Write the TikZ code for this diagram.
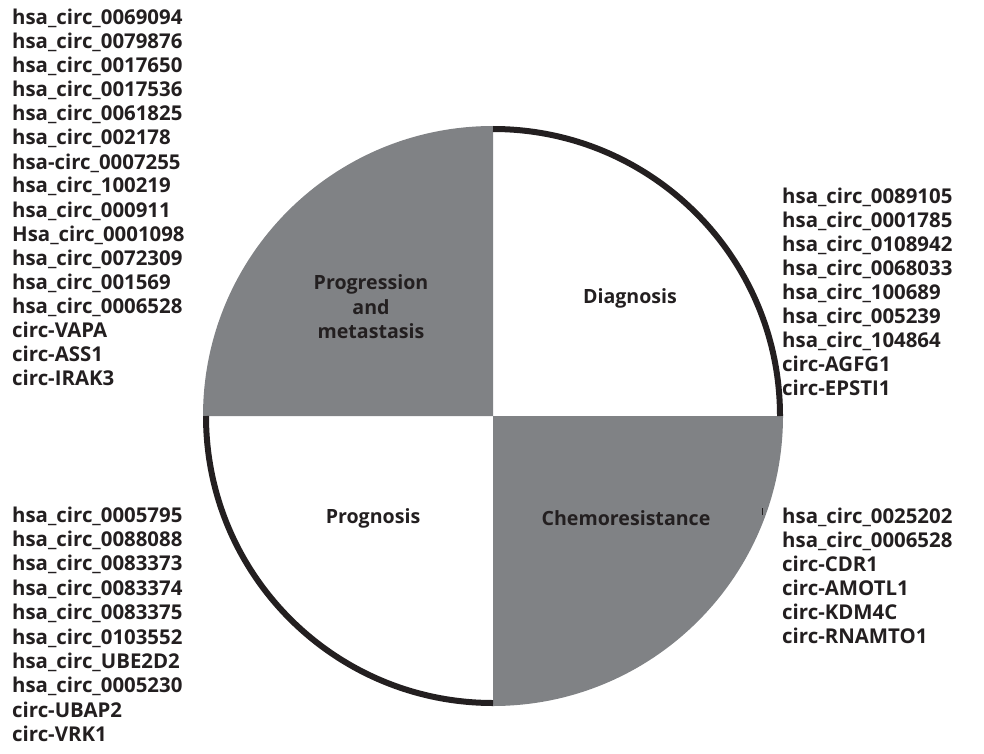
\documentclass[tikz,border=0pt]{standalone}
\usepackage{fontspec}
\setmainfont{Open Sans}
\usetikzlibrary{calc}
\definecolor{sectorgray}{RGB}{128,130,133}
\definecolor{ink}{RGB}{35,31,32}
\tikzset{
  item/.style={anchor=base west, inner sep=0pt, text=ink, font=\fontsize{20.4}{24}\selectfont\bfseries},
  cat/.style={anchor=center, inner sep=0pt, text=ink, align=center, font=\fontsize{19.6}{24.5}\selectfont\bfseries},
  rim/.style={line width=6pt, draw=ink}
}
\begin{document}
\begin{tikzpicture}[x=1pt,y=1pt]
\useasboundingbox (0,0) rectangle (984,-754);
\coordinate (c) at (493,-416);
% shaded sectors
\fill[sectorgray] (c) -- ++(180:290) arc[start angle=180,end angle=90,radius=290] -- cycle;
\fill[sectorgray] (c) -- ++(0:290) arc[start angle=0,end angle=-90,radius=290] -- cycle;
% black rims of white sectors
\draw[rim] ($(c)+(90:287)$) arc[start angle=90,end angle=0,radius=287];
\draw[rim] ($(c)+(180:287)$) arc[start angle=180,end angle=270,radius=287];
% tiny mark
\draw[ink, line width=0.8pt] (762,-508) -- (762,-515);
% category labels
\node[cat] (prog) at (371,-307) {Progression\\and\\metastasis};
\node[cat] (diag) at (630,-298) {Diagnosis};
\node[cat] (progn) at (373,-518) {Prognosis};
\node[cat] (chemo) at (626,-518) {Chemoresistance};
% lists
\foreach \t [count=\i] in {hsa\_circ\_0069094,hsa\_circ\_0079876,hsa\_circ\_0017650,hsa\_circ\_0017536,hsa\_circ\_0061825,hsa\_circ\_002178,hsa-circ\_0007255,hsa\_circ\_100219,hsa\_circ\_000911,Hsa\_circ\_0001098,hsa\_circ\_0072309,hsa\_circ\_001569,hsa\_circ\_0006528,circ-VAPA,circ-ASS1,circ-IRAK3}
  \node[item] (pm\i) at (12,{-25-24*(\i-1)}) {\t};
\foreach \t [count=\i] in {hsa\_circ\_0089105,hsa\_circ\_0001785,hsa\_circ\_0108942,hsa\_circ\_0068033,hsa\_circ\_100689,hsa\_circ\_005239,hsa\_circ\_104864,circ-AGFG1,circ-EPSTI1}
  \node[item] (dg\i) at (782,{-203-24*(\i-1)}) {\t};
\foreach \t [count=\i] in {hsa\_circ\_0005795,hsa\_circ\_0088088,hsa\_circ\_0083373,hsa\_circ\_0083374,hsa\_circ\_0083375,hsa\_circ\_0103552,hsa\_circ\_UBE2D2,hsa\_circ\_0005230,circ-UBAP2,circ-VRK1}
  \node[item] (pg\i) at (12,{-522-24.4*(\i-1)}) {\t};
\foreach \t [count=\i] in {hsa\_circ\_0025202,hsa\_circ\_0006528,circ-CDR1,circ-AMOTL1,circ-KDM4C,circ-RNAMTO1}
  \node[item] (ch\i) at (782,{-523-24*(\i-1)}) {\t};
\end{tikzpicture}
\end{document}
